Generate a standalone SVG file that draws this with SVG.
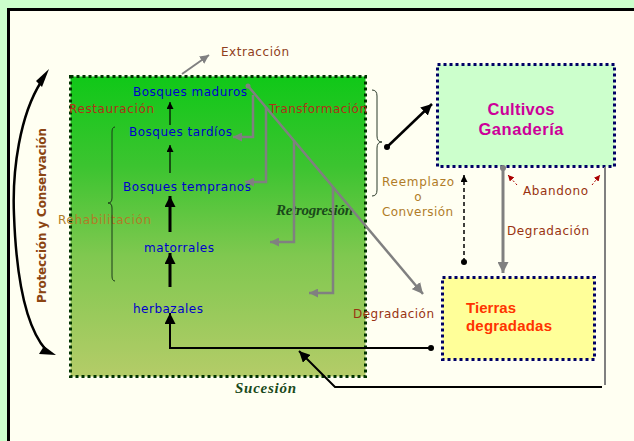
<svg xmlns="http://www.w3.org/2000/svg" width="634" height="441" viewBox="0 0 634 441">
<defs>
<linearGradient id="gGreen" x1="0" y1="0" x2="0" y2="1">
<stop offset="0" stop-color="#10c818"/>
<stop offset="0.3" stop-color="#3cc430"/>
<stop offset="0.6" stop-color="#80c850"/>
<stop offset="1" stop-color="#b4cc68"/>
</linearGradient>
<marker id="ahS" viewBox="0 0 10 10" refX="10" refY="5" markerWidth="7" markerHeight="7" markerUnits="userSpaceOnUse" orient="auto"><path d="M0,0 L10,5 L0,10 z" fill="#000"/></marker>
<marker id="ahB" viewBox="0 0 10 10" refX="10" refY="5" markerWidth="11" markerHeight="11" markerUnits="userSpaceOnUse" orient="auto"><path d="M0,0 L10,5 L0,10 z" fill="#000"/></marker>
<marker id="ahG" viewBox="0 0 10 10" refX="10" refY="5" markerWidth="11" markerHeight="11" markerUnits="userSpaceOnUse" orient="auto"><path d="M0,0 L10,5 L0,10 z" fill="#808080"/></marker>
<marker id="ahGs" viewBox="0 0 10 10" refX="10" refY="5" markerWidth="9" markerHeight="9" markerUnits="userSpaceOnUse" orient="auto"><path d="M0,0 L10,5 L0,10 z" fill="#808080"/></marker>
<marker id="ahR" viewBox="0 0 10 10" refX="10" refY="5" markerWidth="6" markerHeight="6" markerUnits="userSpaceOnUse" orient="auto"><path d="M0,0 L10,5 L0,10 z" fill="#aa0000"/></marker>
</defs>
<style>
.t{font-family:"DejaVu Sans","Liberation Sans",sans-serif;font-size:12px}
.blue{fill:#0000cc}
.red{fill:#b03018}
.gold{fill:#b07c28}
.brown{fill:#993311}
.it{font-family:"Liberation Serif","DejaVu Serif",serif;font-style:italic;font-weight:bold;font-size:15px;fill:#1a4a1a}
.big{font-family:"Liberation Sans","DejaVu Sans",sans-serif;font-weight:bold}
.g{stroke:#808080;fill:none;stroke-width:2.5}
.k{stroke:#000;fill:none}
</style>
<rect x="0" y="0" width="634" height="441" fill="#ccffcc"/>
<rect x="8.5" y="9.5" width="700" height="500" fill="#fffff2" stroke="#000" stroke-width="3"/>

<g id="succession-box">
<rect x="70.5" y="76.5" width="295" height="300" fill="url(#gGreen)" stroke="#003300" stroke-width="3" stroke-dasharray="3 3"/>
</g>
<g id="cultivos">
<rect x="437.5" y="64.5" width="177" height="102" fill="#ccffcc" stroke="#000066" stroke-width="3" stroke-dasharray="3 3"/>
<text class="big" x="521" y="115" font-size="16.5" fill="#cc0099" text-anchor="middle" textLength="67">Cultivos</text>
<text class="big" x="521" y="135" font-size="16.5" fill="#cc0099" text-anchor="middle" textLength="85">Ganadería</text>
</g>
<g id="tierras">
<rect x="442.5" y="277.5" width="152" height="82" fill="#ffff99" stroke="#000066" stroke-width="3" stroke-dasharray="3 3"/>
<text class="big" x="466" y="313" font-size="15" fill="#ff3300" textLength="50">Tierras</text>
<text class="big" x="466" y="331" font-size="15" fill="#ff3300" textLength="86">degradadas</text>
</g>

<g id="nodes">
<text class="t blue" x="133" y="96" textLength="114">Bosques maduros</text>
<text class="t blue" x="129" y="136" textLength="103">Bosques tardíos</text>
<text class="t blue" x="123" y="191" textLength="128">Bosques tempranos</text>
<text class="t blue" x="144" y="252" textLength="70">matorrales</text>
<text class="t blue" x="133" y="313" textLength="70">herbazales</text>
</g>

<g id="labels">
<text class="t" x="221" y="56" fill="#904020" textLength="68">Extracción</text>
<text class="t red" x="69" y="113" textLength="85">Restauración</text>
<text class="t red" x="269" y="113" textLength="98">Transformación</text>
<text class="t gold" x="58" y="224" textLength="93">Rehabilitación</text>
<text class="t gold" x="382" y="186" textLength="72">Reemplazo</text>
<text class="t gold" x="418" y="201" text-anchor="middle">o</text>
<text class="t gold" x="382" y="216" textLength="71">Conversión</text>
<text class="t brown" x="523" y="195" textLength="65">Abandono</text>
<text class="t brown" x="507" y="235" textLength="82">Degradación</text>
<text class="t brown" x="353" y="318" textLength="81">Degradación</text>
<text class="it" x="276" y="215" font-size="14" textLength="77">Retrogresión</text>
<text class="it" x="235" y="393" textLength="61">Sucesión</text>
<text class="t" x="45.5" y="215.5" font-weight="bold" font-size="11" fill="#8b4513" text-anchor="middle" textLength="175" transform="rotate(-90 45.5 215.5)">Protección y Conservación</text>
</g>

<g id="connectors">
<!-- left curved double arrow -->
<path class="k" stroke-width="2.5" d="M41,82 C20,115 12,170 14,215 C16,270 24,325 46,350"/>
<path d="M49,69 L42,87 L36,81 z" fill="#000"/>
<path d="M56,355 L39,354 L44,346 z" fill="#000"/>
<!-- succession arrows -->
<line class="k" stroke-width="1.2" x1="170" y1="125" x2="170" y2="102" marker-end="url(#ahS)"/>
<line class="k" stroke-width="1.2" x1="170" y1="173" x2="170" y2="145" marker-end="url(#ahS)"/>
<line class="k" stroke-width="3" x1="170" y1="232" x2="170" y2="196" marker-end="url(#ahB)"/>
<line class="k" stroke-width="3" x1="170" y1="287" x2="170" y2="253" marker-end="url(#ahB)"/>
<polyline class="k" stroke-width="2" points="431,348 170,348 170,313" marker-end="url(#ahB)"/>
<circle cx="431" cy="348" r="3" fill="#000"/>
<polyline class="k" stroke-width="2" points="602,387 335,387 299,351" marker-end="url(#ahB)"/>
<line stroke="#808080" stroke-width="2" x1="605" y1="167" x2="605" y2="385"/>
<!-- extraction -->
<line stroke="#808080" stroke-width="2" x1="182" y1="74" x2="209" y2="55" marker-end="url(#ahGs)"/>
<!-- retrogression -->
<circle cx="248" cy="86" r="2.5" fill="#808080"/>
<line class="g" x1="248" y1="86" x2="423" y2="294" marker-end="url(#ahG)"/>
<polyline class="g" points="253,95 253,137 233,137" marker-end="url(#ahGs)"/>
<polyline class="g" points="266,107 266,182 245,182" marker-end="url(#ahGs)"/>
<polyline class="g" points="294,140 294,242 270,242" marker-end="url(#ahGs)"/>
<polyline class="g" points="333,187 333,293 309,293" marker-end="url(#ahGs)"/>
<!-- braces -->
<path fill="none" stroke="#1a3a1a" stroke-width="1" d="M115,127 Q112,127 112,132 L112,198 Q112,203 108,203 Q112,203 112,208 L112,276 Q112,281 115,281"/>
<path fill="none" stroke="#2a3a2a" stroke-width="1" d="M372,90 Q377,90 377,96 L377,136 Q377,142 382,142 Q377,142 377,148 L377,190 Q377,196 372,196"/>
<!-- conversion -->
<line class="k" stroke-width="2.5" x1="387" y1="147" x2="432" y2="104" marker-end="url(#ahB)"/>
<circle cx="387" cy="147" r="3" fill="#000"/>
<line class="k" stroke-width="1.5" stroke-dasharray="4 3" x1="464" y1="262" x2="464" y2="175" marker-end="url(#ahS)"/>
<circle cx="464" cy="262" r="3" fill="#000"/>
<!-- degradation -->
<circle cx="503" cy="168" r="3" fill="#808080"/>
<line stroke="#808080" stroke-width="3" x1="503" y1="168" x2="503" y2="273" marker-end="url(#ahG)"/>
<!-- abandono -->
<line stroke="#aa0000" stroke-width="1" stroke-dasharray="2 2" x1="517" y1="185" x2="508" y2="175" marker-end="url(#ahR)"/>
<line stroke="#aa0000" stroke-width="1" stroke-dasharray="2 2" x1="592" y1="185" x2="600" y2="175" marker-end="url(#ahR)"/>
</g>
</svg>
